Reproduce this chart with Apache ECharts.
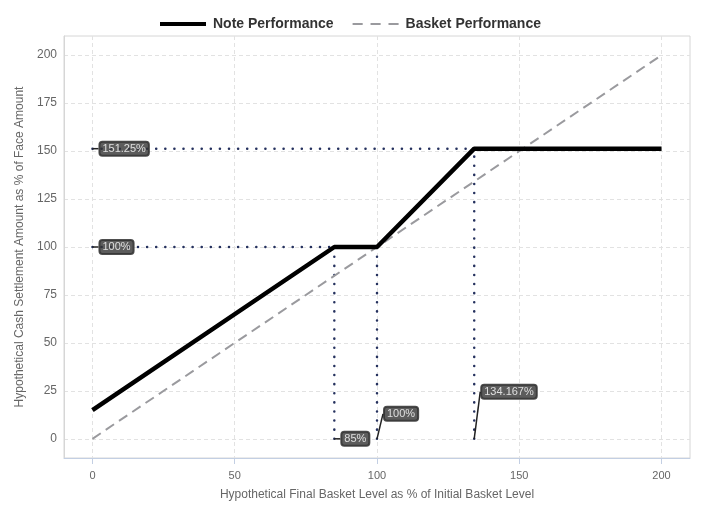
<!DOCTYPE html>
<html><head><meta charset="utf-8">
<script src="https://cdn.jsdelivr.net/npm/echarts@6/dist/echarts.min.js"></script>
<style>html,body{margin:0;padding:0;background:#fff}#c{width:709px;height:531px}</style>
</head><body><div id="c"></div>
<script>
const noteX = [0, 85, 100, 134.167, 200];
const noteY = [15, 100, 100, 151.25, 151.25];
const basketX = [0, 200];
const basketY = [0, 200];
const xTicks = [0, 50, 100, 150, 200];
const yTicks = [0, 25, 50, 75, 100, 125, 150, 175, 200];
// reference guides: [x1,y1,x2,y2]
const guides = [
  [0, 151.25, 134.167, 151.25],
  [0, 100, 100, 100],
  [85, 0, 85, 100],
  [100, 0, 100, 100],
  [134.167, 0, 134.167, 151.25]
];
const annX = [0, 0, 85, 100, 134.167];
const annY = [151.25, 100, 0, 0, 0];
const annText = ['151.25%', '100%', '85%', '100%', '134.167%'];
const annDy = [0, 0, 0, -25, -47];

const font = 'Liberation Sans, Arial, sans-serif';
const chart = echarts.init(document.getElementById('c'));
const guideSeries = guides.map(g => ({
  type: 'line', silent: true, symbol: 'none', z: 1,
  data: [[g[0], g[1]], [g[2], g[3]]],
  lineStyle: {color: '#25315e', width: 2.5, type: [0.1, 9], cap: 'round'}
}));
chart.setOption({
  animation: false,
  textStyle: {fontFamily: font},
  legend: {
    top: 12, left: 155, itemGap: 19, itemWidth: 46, itemHeight: 14,
    textStyle: {fontWeight: 'bold', fontSize: 14, color: '#333', fontFamily: font, padding: [0, 0, 0, 2]},
    data: [
      {name: 'Note Performance', icon: 'path://M0,5 L46,5 L46,9 L0,9 Z', itemStyle: {color: '#000'}},
      {name: 'Basket Performance', icon: 'path://M0,6 L9,6 L9,8 L0,8 Z M16,6 L25,6 L25,8 L16,8 Z M32,6 L41,6 L41,8 L32,8 Z', itemStyle: {color: '#9a9a9e'}}
    ]
  },
  grid: {left: 64, right: 19, top: 36, bottom: 73, show: true, borderColor: '#d6d6d6', borderWidth: 1},
  xAxis: {
    type: 'value', min: -10, max: 210,
    name: 'Hypothetical Final Basket Level as % of Initial Basket Level',
    nameLocation: 'middle', nameGap: 31,
    nameTextStyle: {color: '#666', fontSize: 12, fontFamily: font},
    axisLine: {show: true, onZero: false, lineStyle: {color: '#c3cfe3'}},
    axisTick: {show: true, customValues: xTicks, length: 6, lineStyle: {color: '#c3cfe3'}},
    axisLabel: {customValues: xTicks, color: '#666', fontSize: 11, margin: 12, fontFamily: font},
    splitLine: {show: true, lineStyle: {color: '#e2e2e2', type: [4, 3]}}
  },
  yAxis: {
    type: 'value', min: -10, max: 210,
    name: 'Hypothetical Cash Settlement Amount as % of Face Amount',
    nameLocation: 'middle', nameGap: 33,
    nameTextStyle: {color: '#666', fontSize: 12, fontFamily: font},
    axisLine: {show: true, onZero: false, lineStyle: {color: '#d6d6d6'}},
    axisTick: {show: false, customValues: yTicks},
    axisLabel: {customValues: yTicks, color: '#666', fontSize: 12, margin: 7, fontFamily: font},
    splitLine: {show: true, lineStyle: {color: '#e2e2e2', type: [4, 3]}}
  },
  series: [
    ...guideSeries,
    {
      name: 'Basket Performance', type: 'line', symbol: 'none', z: 2,
      data: basketX.map((x, i) => [x, basketY[i]]),
      lineStyle: {color: '#9a9a9e', width: 2, type: [10, 6]},
      itemStyle: {color: '#9a9a9e'}
    },
    {
      name: 'Note Performance', type: 'line', symbol: 'none', z: 3,
      data: noteX.map((x, i) => [x, noteY[i]]),
      lineStyle: {color: '#000', width: 4.5},
      itemStyle: {color: '#000'}
    },
    {
      type: 'scatter', symbolSize: 0.01, z: 10, silent: true,
      data: annX.map((x, i) => ({
        value: [x, annY[i]],
        label: {formatter: annText[i]}
      })),
      label: {
        show: true, position: 'right', distance: 7,
        color: '#fff', fontSize: 11, fontFamily: font,
        backgroundColor: '#333', borderRadius: 3, padding: [2, 3, 1, 3],
        borderColor: '#222', borderWidth: 1
      },
      labelLayout: function (p) { return {dy: annDy[p.dataIndex]}; },
      labelLine: {show: true, length2: 0, lineStyle: {color: '#222', width: 1.5}}
    }
  ]
});
</script></body></html>
